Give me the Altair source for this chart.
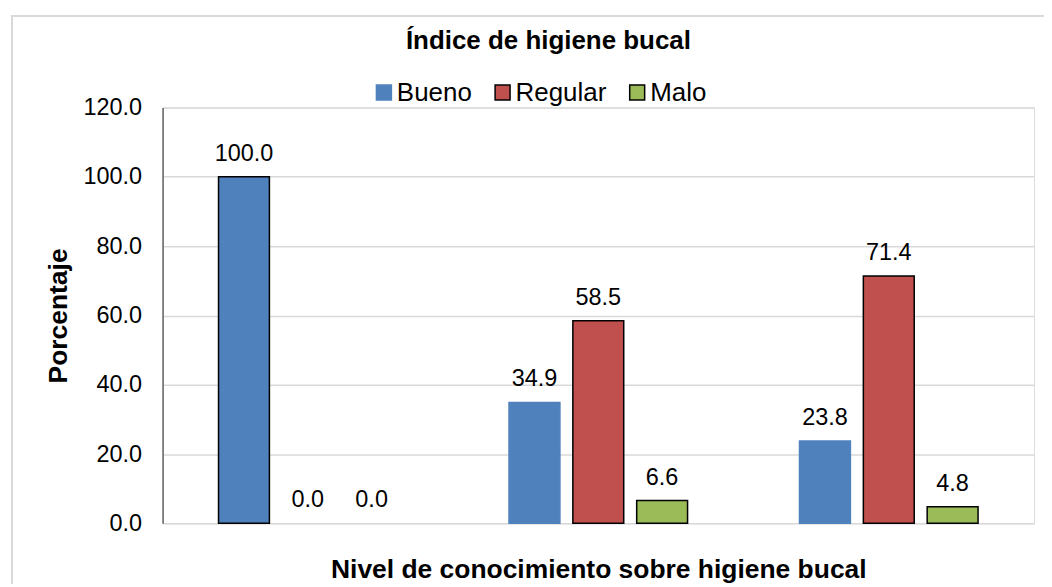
import altair as alt
import pandas as pd

# ---- data ----
niveles = ["Bueno", "Regular", "Malo"]          # categories on x (labels hidden in the reference)
series = ["Bueno", "Regular", "Malo"]           # Índice de higiene bucal
bueno = [100.0, 34.9, 23.8]
regular = [0.0, 58.5, 71.4]
malo = [0.0, 6.6, 4.8]
y_ticks = [0, 20, 40, 60, 80, 100, 120]

colores = ["#4F81BD", "#C0504D", "#9BBB59"]

rows = []
for i, n in enumerate(niveles):
    for s, vals in zip(series, [bueno, regular, malo]):
        rows.append({"nivel": n, "serie": s, "valor": vals[i]})
df = pd.DataFrame(rows)

FONT = "Liberation Sans"

x_enc = alt.X(
    "nivel:N", sort=niveles,
    scale=alt.Scale(paddingInner=0, paddingOuter=0),
    axis=alt.Axis(labels=False, ticks=False, domain=False, grid=False,
                  title="Nivel de conocimiento sobre higiene bucal",
                  titleFont=FONT, titleFontSize=26.5, titleFontWeight="bold",
                  titleColor="black", titlePadding=33),
)
xoff_enc = alt.XOffset("serie:N", sort=series,
                       scale=alt.Scale(paddingInner=0.203, paddingOuter=0.877))
y_enc = alt.Y(
    "valor:Q",
    scale=alt.Scale(domain=[0, 120]),
    axis=alt.Axis(values=y_ticks, format=".1f", ticks=False,
                  labelFont=FONT, labelFontSize=23.5, labelColor="black", labelPadding=21,
                  domain=True, domainColor="#404040", domainWidth=1.2,
                  grid=True, gridColor="#D9D9D9", gridWidth=1.5,
                  title="Porcentaje", titleFont=FONT, titleFontSize=26.5,
                  titleFontWeight="bold", titleColor="black", titlePadding=11),
)

leg = alt.Legend(
    title=None, orient="none", direction="horizontal",
    legendX=209, legendY=-28,
    symbolType="square", symbolSize=225, symbolStrokeWidth=1.5,
    labelFont=FONT, labelFontSize=26, labelColor="black",
    labelOffset=0, columnPadding=17, padding=0,
)

bars = alt.Chart(df).mark_bar(strokeWidth=1.5).encode(
    x=x_enc,
    xOffset=xoff_enc,
    y=y_enc,
    fill=alt.Fill("serie:N", sort=series,
                  scale=alt.Scale(domain=series, range=colores), legend=leg),
    stroke=alt.Stroke(
        "serie:N", sort=series,
        scale=alt.Scale(domain=series, range=[colores[0], "black", "black"]),
        legend=leg,
        condition=[
            {"test": "datum.valor == 0", "value": "transparent"},
            {"test": "datum.serie == 'Bueno' && datum.nivel == 'Bueno'", "value": "black"},
        ],
    ),
)

labels = alt.Chart(df).mark_text(
    baseline="alphabetic", dy=-16, font=FONT, fontSize=23.5, color="black"
).encode(
    x=x_enc,
    xOffset=xoff_enc,
    y=y_enc,
    text=alt.Text("valor:Q", format=".1f"),
)

frame = alt.Chart(df).mark_rect(fill=None, stroke="#D9D9D9", strokeWidth=1.5).encode(
    x=alt.value(-151), x2=alt.value(900), y=alt.value(-92), y2=alt.value(480)
)

chart = alt.layer(frame, bars, labels).properties(
    width=874, height=417,
    autosize=alt.AutoSizeParams(type="none"),
    padding={"left": 155, "top": 99, "right": 10, "bottom": 60},
    title=alt.TitleParams("Índice de higiene bucal", font=FONT, fontSize=26,
                          fontWeight="bold", color="black", anchor="middle",
                          dx=-50, dy=45, offset=6),
).configure_view(stroke=None).configure(background="white")

chart.save("out.html", embed_options={"renderer": "svg", "actions": False})
